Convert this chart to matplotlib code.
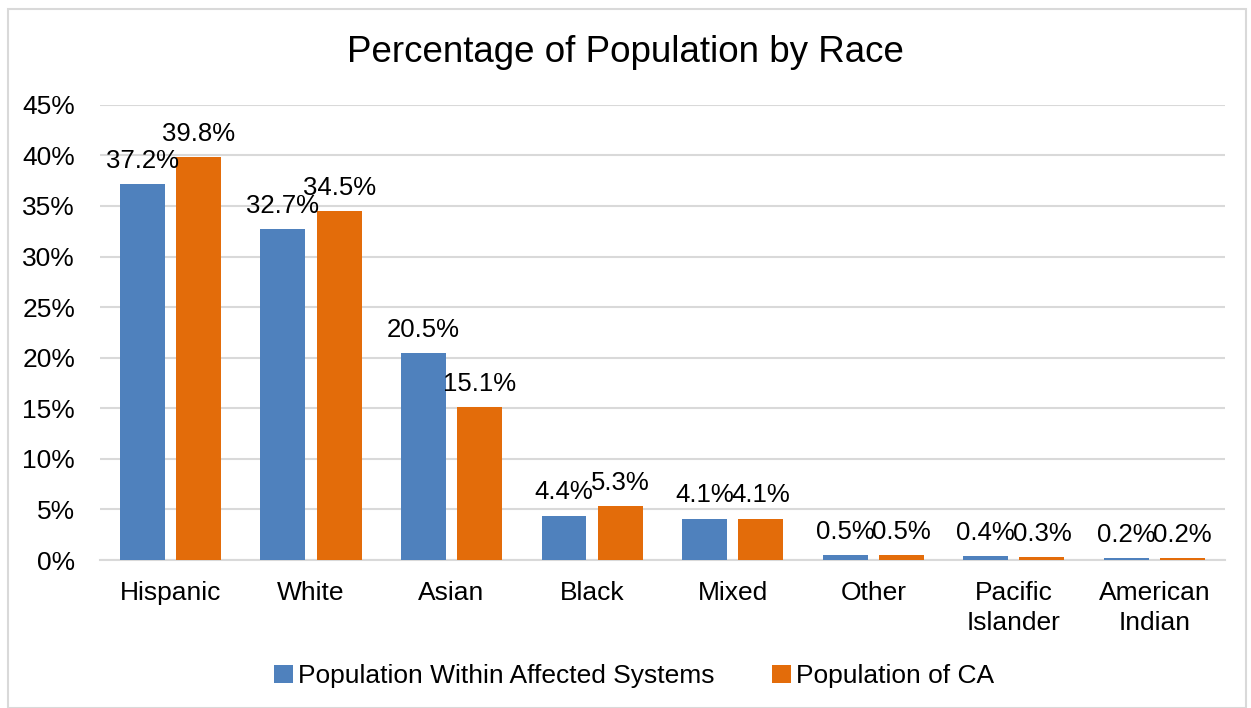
import numpy as np
import matplotlib
matplotlib.use('Agg')
import matplotlib.pyplot as plt
from matplotlib.patches import Rectangle
from matplotlib.ticker import FuncFormatter

plt.rcParams['font.family'] = ['Liberation Sans', 'DejaVu Sans']

races = ['Hispanic', 'White', 'Asian', 'Black', 'Mixed', 'Other',
         'Pacific\nIslander', 'American\nIndian']
affected = [37.2, 32.7, 20.5, 4.4, 4.1, 0.5, 0.4, 0.2]
california = [39.8, 34.5, 15.1, 5.3, 4.1, 0.5, 0.3, 0.2]
series_names = ['Population Within Affected Systems', 'Population of CA']

BLUE = '#4F81BD'
ORANGE = '#E36C0A'
GRID = '#D9D9D9'

fig = plt.figure(figsize=(12.51, 7.08), dpi=100)
ax = fig.add_axes([0.08, 0.209, 0.899, 0.643])

x = np.arange(len(races))
w = 0.32
off = 0.2
b1 = ax.bar(x - off, affected, w, color=BLUE, label=series_names[0], zorder=3)
b2 = ax.bar(x + off, california, w, color=ORANGE, label=series_names[1], zorder=3)

# value labels above each bar
for bars, vals in ((b1, affected), (b2, california)):
    for rect, v in zip(bars, vals):
        ax.text(rect.get_x() + rect.get_width() / 2, v + 1.1, f'{v:.1f}%',
                ha='center', va='bottom', fontsize=18.5, zorder=4)

ax.set_xlim(-0.5, len(races) - 0.5)
ax.set_ylim(0, 45)
ax.set_yticks(np.arange(0, 46, 5))
ax.yaxis.set_major_formatter(FuncFormatter(lambda v, _: f'{v:.0f}%'))
ax.set_xticks(x)
ax.set_xticklabels(races, fontsize=19, linespacing=1.3)
ax.tick_params(axis='y', labelsize=19, length=0, pad=18)
ax.tick_params(axis='x', length=0, pad=15)

ax.grid(axis='y', color=GRID, linewidth=1.5, zorder=0)
for s in ('top', 'right', 'left'):
    ax.spines[s].set_visible(False)
ax.spines['bottom'].set_color(GRID)
ax.spines['bottom'].set_linewidth(1.5)

fig.suptitle('Percentage of Population by Race', fontsize=26.5, y=0.951)

fig.legend(handles=[b1, b2], loc='center', bbox_to_anchor=(0.507, 0.045),
           ncol=2, frameon=False, fontsize=19, handlelength=0.7,
           handleheight=0.7, handletextpad=0.2, columnspacing=2.2)

# light frame around the whole chart area
fig.patches.append(Rectangle((0.006, 0.0), 0.99, 0.987, transform=fig.transFigure,
                             fill=False, edgecolor=GRID, linewidth=1.5))

fig.savefig('out.png', dpi=100)
